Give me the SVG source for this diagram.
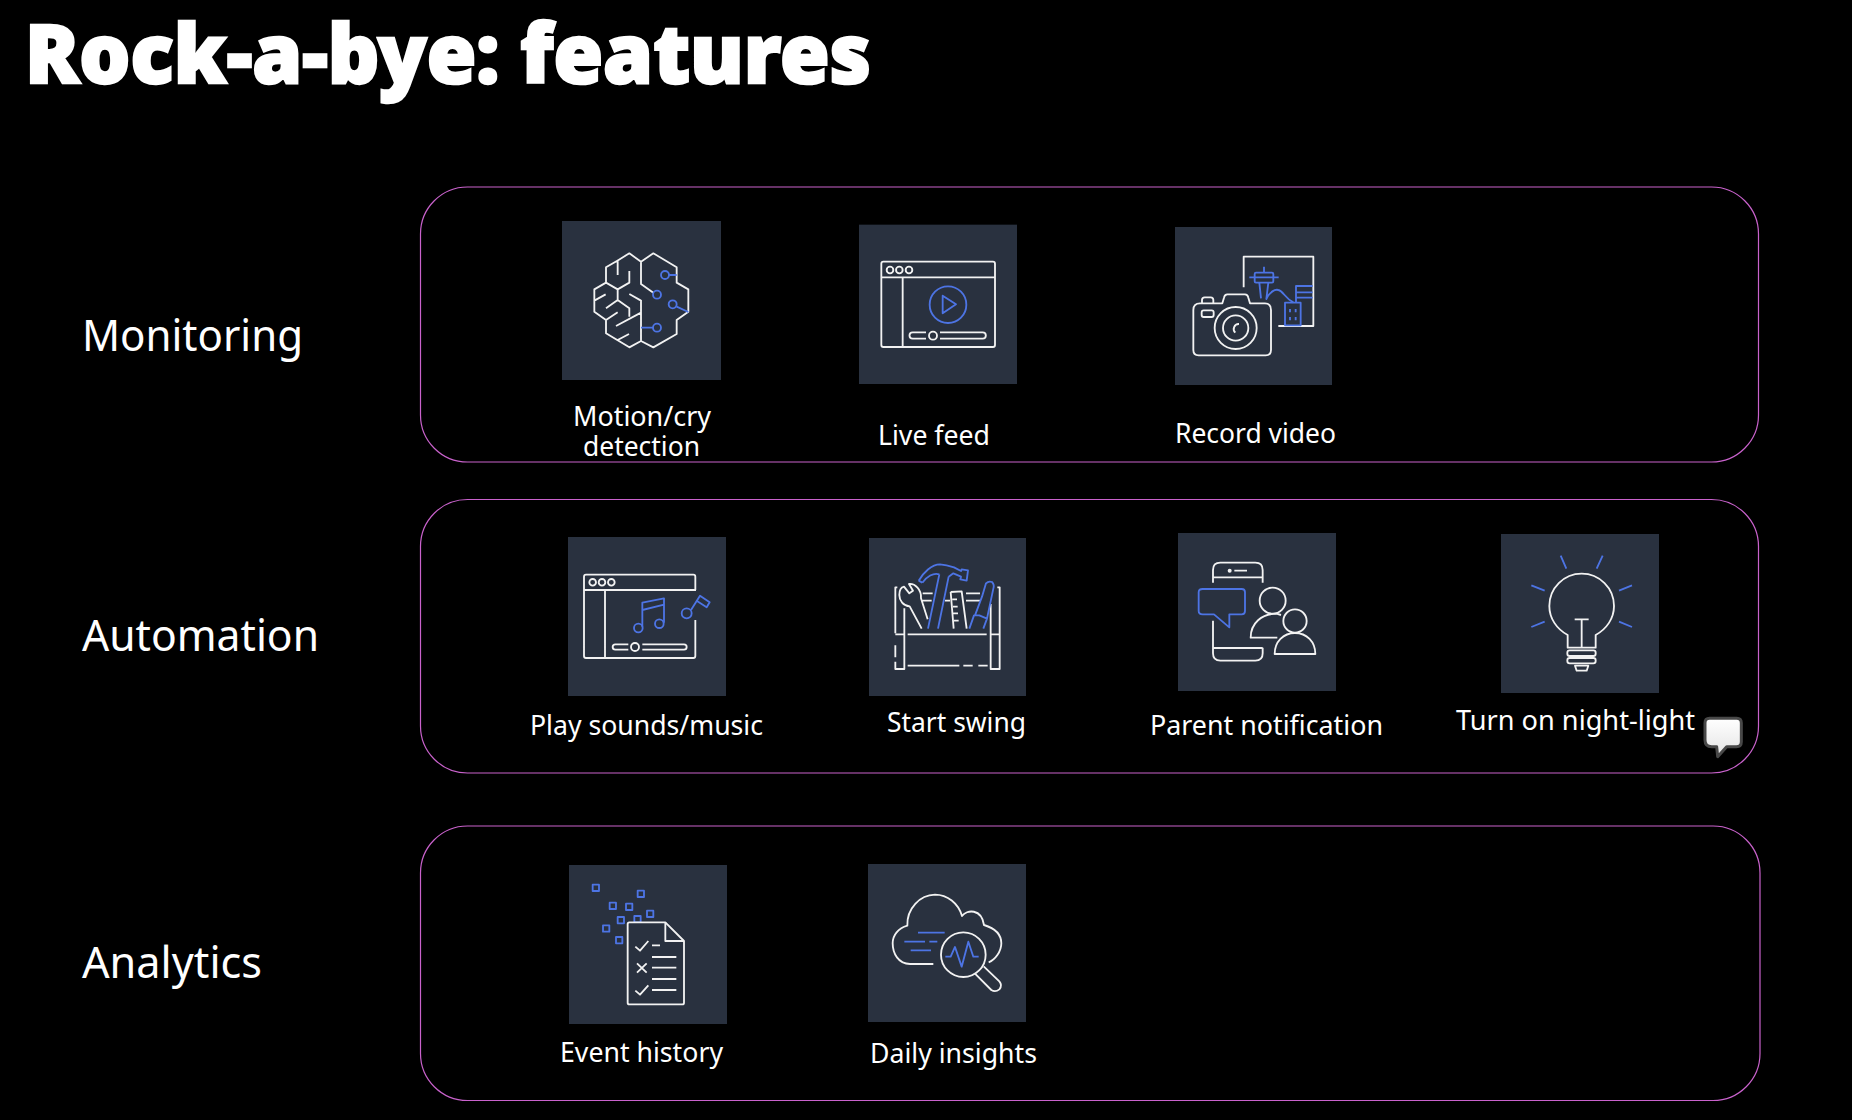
<svg xmlns="http://www.w3.org/2000/svg" width="1852" height="1120" viewBox="0 0 1852 1120">
<style>
text{font-family:"Noto Sans","Open Sans","Liberation Sans",sans-serif;fill:#fff}
.title{font-size:81px;font-weight:900;stroke:#fff;stroke-width:2.5px}
.cat{font-size:44px}
.lab{font-size:28px}
.panel{fill:none;stroke:#c962cc;stroke-width:1.2}
.sq{fill:#29313f}
.i{fill:none;stroke:#f2f2f2;stroke-width:5.5;stroke-linecap:butt;stroke-linejoin:round}
.b{fill:none;stroke:#4d74e4;stroke-width:5.5;stroke-linejoin:round}
</style>
<defs><linearGradient id="bubble" x1="0" y1="0" x2="0" y2="1"><stop offset="0" stop-color="#fff"/><stop offset="1" stop-color="#e4e4e4"/></linearGradient></defs>
<rect width="1852" height="1120" fill="#000"/>
<text class="title" x="25" y="83" textLength="846" lengthAdjust="spacingAndGlyphs">Rock-a-bye: features</text>
<g id="panels">
<rect class="panel" x="420.5" y="187" width="1338" height="275" rx="47"/>
<rect class="panel" x="420.5" y="499.5" width="1338" height="273.5" rx="47"/>
<rect class="panel" x="420.5" y="826" width="1339.5" height="274.5" rx="47"/>
</g>
<text class="cat" x="82" y="351" textLength="221" lengthAdjust="spacingAndGlyphs">Monitoring</text>
<text class="cat" x="82" y="651" textLength="237" lengthAdjust="spacingAndGlyphs">Automation</text>
<text class="cat" x="82" y="978" textLength="180" lengthAdjust="spacingAndGlyphs">Analytics</text>

<g id="motion-detection">
<g transform="translate(540 210) scale(.33333)">
<rect class="sq" x="66" y="33" width="477" height="477"/>
<path class="i" d="M303,155L268,130L232,152L198,172V218L163,238V305L198,330V370L268,412L303,393V270M303,155V222L340,248M303,155L340,130L410,172V218L445,238V305L410,330V372L340,412L303,393M233,152V195M198,218L233,238L268,218V183M233,238V270L268,295V320M268,252L303,272M163,272L197,253M198,295L233,270M198,330L233,307M228,348L303,308M233,390L267,372"/>
<circle class="b" cx="375" cy="195" r="12"/><circle class="b" cx="351" cy="254" r="12"/><circle class="b" cx="398" cy="283" r="12"/><circle class="b" cx="351" cy="353" r="12"/>
<path class="b" d="M387,195H410M410,290L445,306M303,353H339"/>
</g>
<text class="lab" x="573" y="426" textLength="138" lengthAdjust="spacingAndGlyphs">Motion/cry</text>
<text class="lab" x="583" y="456" textLength="117" lengthAdjust="spacingAndGlyphs">detection</text>
</g>

<g id="live-feed">
<g transform="translate(840 215) scale(.33333)">
<rect class="sq" x="57" y="29" width="474" height="478"/>
<rect class="i" x="124" y="140" width="341" height="256" rx="6"/>
<path class="i" d="M124,187H465M188,187V396M258,352H218a9.500,9.500 0 0 0 0,19H258M300,352H428a9.500,9.500 0 0 1 0,19H300"/>
<circle class="i" cx="150" cy="165" r="10"/><circle class="i" cx="178" cy="165" r="10"/><circle class="i" cx="207" cy="165" r="10"/><circle class="i" cx="279" cy="362" r="12"/>
<circle class="b" cx="324" cy="269" r="55"/><path class="b" d="M308,242L348,268L308,295Z"/>
</g>
<text class="lab" x="878" y="445" textLength="112" lengthAdjust="spacingAndGlyphs">Live feed</text>
</g>

<g id="record-video">
<g transform="translate(1160 215) scale(.33333)">
<rect class="sq" x="45" y="36" width="471" height="474"/>
<path class="i" d="M251,217V125H460V333H355"/>
<path class="i" d="M100,285q0,-20 20,-20H187L192,248q2,-10 10,-10H255q8,0 10,10L270,265H315q18,0 18,20V405q0,16 -16,16H116q-16,0 -16,-16ZM126,265V255q0,-8 8,-8H152q8,0 8,8V265M237,327A15,15 0 0 0 226,353"/>
<rect class="i" x="125" y="286" width="36" height="20" rx="6"/>
<circle class="i" cx="227" cy="339" r="63"/><circle class="i" cx="227" cy="339" r="38"/>
<rect class="b" x="284" y="173" width="56" height="30" rx="4"/>
<rect class="b" x="375" y="263" width="47" height="68"/>
<path class="b" d="M268,187H356M312,155V173M298,203L303,250M325,203L319,252C330,230 345,222 355,225C370,228 375,250 400,262M390,282V292M407,282V292M390,306V316M407,306V316M408,262V213H458M408,232H458M408,248H458"/>
</g>
<text class="lab" x="1175" y="443" textLength="161" lengthAdjust="spacingAndGlyphs">Record video</text>
</g>

<g id="play-sounds">
<g transform="translate(560 530) scale(.33333)">
<rect class="sq" x="24" y="21" width="474" height="477"/>
<path class="i" d="M406,180V140q0,-6 -6,-6H78q-6,0 -6,6V378q0,6 6,6H400q6,0 6,-6V270M72,180H408M135,180V384M205,343H166a8,8 0 0 0 0,16H205M247,343H372a8,8 0 0 1 0,16H247"/>
<circle class="i" cx="98" cy="157" r="10"/><circle class="i" cx="126" cy="157" r="10"/><circle class="i" cx="154" cy="157" r="10"/><circle class="i" cx="225" cy="351" r="12"/>
<circle class="b" cx="235" cy="294" r="13"/><circle class="b" cx="298" cy="281" r="13"/><circle class="b" cx="380" cy="250" r="15"/>
<path class="b" d="M247,290V218L312,205V278M247,240L312,224M393,240L420,197L449,217L440,232L412,214"/>
</g>
<text class="lab" x="530" y="735" textLength="233" lengthAdjust="spacingAndGlyphs">Play sounds/music</text>
</g>

<g id="start-swing">
<g transform="translate(860 530) scale(.33333)">
<rect class="sq" x="27" y="24" width="471" height="474"/>
<path class="i" d="M112,172H106V310M106,346V382M106,395V417H133V235M412,172H419V417H392V222M106,313H133M392,313H419M143,313H380M143,407H298M310,407H338M355,407H383M188,190H218M188,212H215M255,212H270M318,190H360M318,212H360M185,296L149,229C130,228 118,212 118,195C118,182 124,172 132,170L148,190L159,182L147,162C165,160 185,178 183,205L203,268M272,186L305,184L320,296M272,186L281,296M277,208H291M279,230H293M280,250H294M282,272H296"/>
<path class="b" d="M204,296L238,133M234,296L266,140M176,152C190,128 215,103 240,103C255,104 270,108 282,112L303,123L305,118L324,121L320,152L301,148L303,140L280,130L266,140M187,158L176,152M187,158C200,140 220,127 238,133M328,296L342,256L358,256L381,266L370,296M345,256L366,200L378,160Q386,152 396,156Q404,164 400,176L381,266"/>
</g>
<text class="lab" x="887" y="732" textLength="139" lengthAdjust="spacingAndGlyphs">Start swing</text>
</g>

<g id="parent-notification">
<g transform="translate(1170 525) scale(.33333)">
<rect class="sq" x="24" y="24" width="474" height="474"/>
<path class="i" d="M129,173V135q0,-22 22,-22H256q22,0 22,22V173M129,157H278M193,137H231M129,287V385q0,22 22,22H256q22,0 22,-22V368M129,369H278M322,338H242C242,295 275,266 320,266L333,270M314,387C314,350 340,324 375,324C410,324 436,350 436,387Z"/>
<circle cx="179" cy="137" r="6" fill="#f2f2f2"/>
<circle class="i" cx="308" cy="227" r="39"/><circle class="i" cx="375" cy="288" r="35"/>
<path class="b" d="M98,192H215q10,0 10,10V258q0,10 -10,10H178V307L132,268H98q-12,0 -12,-10V202q0,-10 12,-10Z"/>
</g>
<text class="lab" x="1150" y="735" textLength="233" lengthAdjust="spacingAndGlyphs">Parent notification</text>
</g>

<g id="night-light">
<g transform="translate(1490 525) scale(.33333)">
<rect class="sq" x="33" y="27" width="474" height="477"/>
<path class="b" d="M212,92L229,131M338,92L320,131M124,181L164,197M426,181L387,197M124,306L164,290M426,306L387,290"/>
<path class="i" d="M233,368V330C200,312 178,280 178,243A97,97 0 0 1 372,243C372,280 350,312 317,330V368ZM275,368V283M254,283H296M255,422H295L290,437H260Z"/>
<rect class="i" x="232" y="376" width="85" height="17" rx="7"/><rect class="i" x="232" y="399" width="85" height="16" rx="7"/>
<path d="M660,580H740q14,0 14,14V650q0,15 -15,15H710L683,695L680,665H665q-20,0 -20,-20V594q0,-14 14,-14Z" fill="url(#bubble)" stroke="#484848" stroke-width="9" stroke-linejoin="round"/>
</g>
<text class="lab" x="1456" y="730" textLength="239" lengthAdjust="spacingAndGlyphs">Turn on night-light</text>
</g>

<g id="event-history">
<g transform="translate(560 860) scale(.33333)">
<rect class="sq" x="27" y="15" width="474" height="477"/>
<g class="b">
<rect x="98" y="74" width="19" height="19"/><rect x="233" y="92" width="19" height="19"/><rect x="149" y="128" width="19" height="19"/><rect x="198" y="131" width="19" height="19"/><rect x="261" y="152" width="19" height="19"/><rect x="173" y="171" width="19" height="19"/><rect x="223" y="168" width="19" height="19"/><rect x="129" y="196" width="19" height="19"/><rect x="168" y="231" width="19" height="19"/>
</g>
<path class="i" style="fill:#29313f" d="M203,192q0,-5 5,-5H316L372,243V428q0,5 -5,5H208q-5,0 -5,-5Z"/>
<path class="i" d="M316,187V243H372M226,260L240,272L265,243M226,392L240,404L265,376M231,310L260,338M260,310L231,338M276,256H300M276,291H349M276,323H349M276,357H349M276,390H349"/>
</g>
<text class="lab" x="560" y="1062" textLength="163" lengthAdjust="spacingAndGlyphs">Event history</text>
</g>

<g id="daily-insights">
<g transform="translate(860 860) scale(.33333)">
<rect class="sq" x="24" y="12" width="474" height="474"/>
<path class="i" d="M220,312H150C115,312 98,280 98,250C98,225 115,205 142,197C140,145 180,105 225,104C262,104 295,130 306,168C320,148 365,145 372,195C405,205 424,225 424,250C424,275 405,300 386,307M345,341L394,390Q406,398 418,388Q428,376 418,364L371,319"/>
<circle class="i" cx="310" cy="284" r="67"/>
<path class="b" d="M174,218H254M133,245H195M208,245H232M152,271H213M256,290H272L285,261L305,320L325,245L340,290H356"/>
</g>
<text class="lab" x="870" y="1063" textLength="167" lengthAdjust="spacingAndGlyphs">Daily insights</text>
</g>
</svg>
